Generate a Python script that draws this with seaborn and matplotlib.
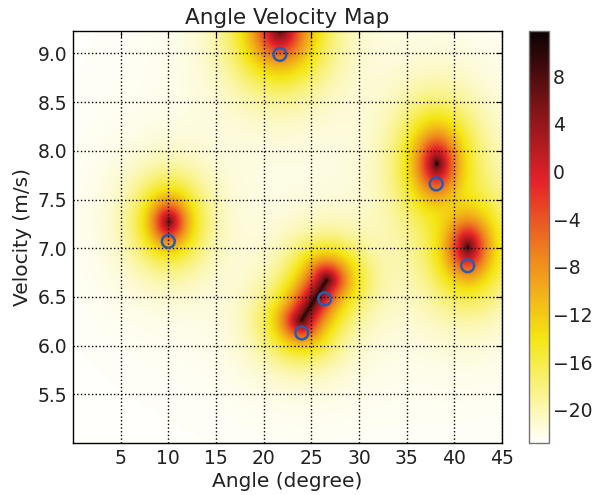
# Angle / velocity power map with detected targets
import numpy as np
import matplotlib
matplotlib.use("Agg")
import matplotlib.pyplot as plt
from matplotlib.colors import LinearSegmentedColormap
import seaborn as sns

# %% ---- data ------------------------
# peak sources of the map (segment ends; equal ends = point peak)
src_angle0 = [10.05, 21.7, 24.0, 38.2, 41.45]
src_vel0 = [7.27, 9.24, 6.26, 7.87, 7.01]
src_angle1 = [10.05, 21.7, 26.6, 38.2, 41.45]
src_vel1 = [7.27, 9.24, 6.67, 7.87, 7.01]
src_peak = [8.0, 10.0, 10.0, 11.0, 10.0]     # dB at the centre
src_body = [3.5, 5.0, 6.0, 5.0, 5.0]         # dB of the main lobe
src_width = [9.5, 13.0, 9.5, 10.0, 10.0]     # lobe width, px
src_stretch = [1.25, 1.2, 1.0, 1.5, 1.4]     # vertical elongation

# detected targets (circles)
target_angle = [10.0, 21.7, 24.0, 26.4, 38.1, 41.4]
target_vel = [7.07, 8.99, 6.13, 6.48, 7.66, 6.82]

angle_range = (0.0, 45.0)
vel_range = (5.0, 9.23)
level_range = (-22.8, 11.8)
halo_level = -18.5

xticks = [5, 10, 15, 20, 25, 30, 35, 40, 45]
yticks = [5.5, 6.0, 6.5, 7.0, 7.5, 8.0, 8.5, 9.0]
cticks = [-20, -16, -12, -8, -4, 0, 4, 8]

# %% ---- field ------------------------
PX_X = 429 / 45.0      # pixels per degree
PX_Y = 412 / 4.23      # pixels per m/s

ang = np.linspace(*angle_range, 460)
vel = np.linspace(*vel_range, 430)
A, V = np.meshgrid(ang, vel)
px, py = A * PX_X, V * PX_Y


def seg_dist2(a0, v0, a1, v1, st):
    ax0, ay0, ax1, ay1 = a0 * PX_X, v0 * PX_Y, a1 * PX_X, v1 * PX_Y
    sx, sy = ax1 - ax0, ay1 - ay0
    L2 = sx * sx + sy * sy
    t = 0 if L2 == 0 else np.clip(((px - ax0) * sx + (py - ay0) * sy) / L2, 0, 1)
    dx = px - (ax0 + t * sx)
    dy = (py - (ay0 + t * sy)) / st
    return dx * dx + dy * dy


power = np.full(A.shape, 10 ** (level_range[0] / 10))
for a0, v0, a1, v1, pk, bd, w, st in zip(src_angle0, src_vel0, src_angle1,
                                         src_vel1, src_peak, src_body,
                                         src_width, src_stretch):
    d2 = seg_dist2(a0, v0, a1, v1, st)
    body = 10 ** (bd / 10)
    spike = 10 ** (pk / 10) - body
    power += body / (1 + d2 / w ** 2) ** 2
    power += spike / (1 + d2 / 2.0 ** 2) ** 2
    power += 10 ** (halo_level / 10) / (1 + d2 / 38.0 ** 2) ** 2

field = 10 * np.log10(power)

# %% ---- plot ------------------------
cmap = LinearSegmentedColormap.from_list("hotmap", [
    (0.0, "#fffffb"), (0.254, "#f4e612"), (0.445, "#ef8a1d"),
    (0.635, "#e52229"), (0.82, "#7a1416"), (1.0, "#0b0203")])

sns.set_theme(style="white")
plt.rcParams["font.family"] = ["DejaVu Sans"]
plt.rcParams.update({
    "text.color": "0.13",
    "axes.labelcolor": "0.13",
    "xtick.color": "black",
    "ytick.color": "black",
    "xtick.labelcolor": "0.13",
    "ytick.labelcolor": "0.13",
})

fig = plt.figure(figsize=(6, 4.95), dpi=100)
ax = fig.add_axes([73 / 600, 52 / 495, 429 / 600, 412 / 495])
cax = fig.add_axes([529 / 600, 52 / 495, 20 / 600, 412 / 495])

im = ax.imshow(field, origin="lower", cmap=cmap, aspect="auto",
               extent=[*angle_range, *vel_range],
               vmin=level_range[0], vmax=level_range[1],
               interpolation="bilinear")

sns.scatterplot(x=target_angle, y=target_vel, ax=ax, s=85, marker="o",
                facecolor="none", edgecolor="#2b5cab", linewidth=1.8,
                zorder=4)

ax.set_xlim(*angle_range)
ax.set_ylim(*vel_range)
ax.set_xticks(xticks)
ax.set_yticks(yticks)
ax.set_xticklabels([str(v) for v in xticks])
ax.set_yticklabels([f"{v:.1f}" for v in yticks])
ax.tick_params(direction="in", top=True, right=True, length=4, width=0.8,
               pad=4, labelsize=13.5)
ax.grid(True, color="black", linestyle=":", linewidth=1.0)
ax.set_axisbelow(False)
for s in ax.spines.values():
    s.set_color("black")
    s.set_linewidth(1.0)

ax.set_title("Angle Velocity Map", fontsize=15.5, pad=5)
ax.set_xlabel("Angle (degree)", fontsize=14.5, labelpad=3)
ax.set_ylabel("Velocity (m/s)", fontsize=14.5, labelpad=4)

cb = fig.colorbar(im, cax=cax, ticks=cticks)
cb.ax.tick_params(direction="in", length=4, width=0.8, labelsize=13.5, pad=3)
cb.outline.set_edgecolor("0.45")
cb.outline.set_linewidth(1.0)
cb.ax.set_yticklabels([f"{t}".replace("-", "\u2212") for t in cticks])

fig.savefig("out.png", dpi=100, facecolor="white")
